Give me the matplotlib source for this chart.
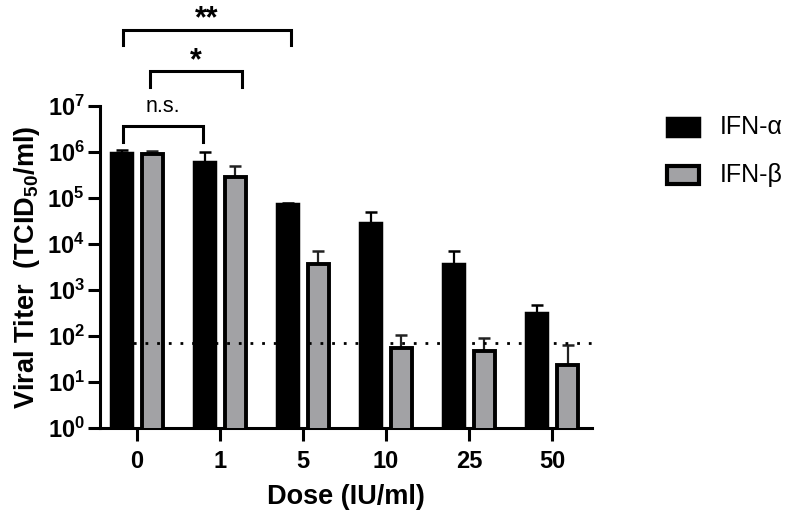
import matplotlib
matplotlib.use("Agg")
import matplotlib.pyplot as plt
import numpy as np
from matplotlib.patches import Rectangle

plt.rcParams['font.family'] = ['Liberation Sans', 'DejaVu Sans']
plt.rcParams['mathtext.fontset'] = 'custom'
plt.rcParams['mathtext.rm'] = 'Liberation Sans'
plt.rcParams['mathtext.bf'] = 'Liberation Sans:bold'
plt.rcParams['mathtext.it'] = 'Liberation Sans:italic'

doses = ['0', '1', '5', '10', '25', '50']
ifn_alpha = [9.5e5, 6.0e5, 7.5e4, 2.9e4, 3.7e3, 320]
ifn_alpha_err = [1.1e6, 1.0e6, 7.8e4, 5.0e4, 7.0e3, 480]
ifn_beta = [9.2e5, 2.9e5, 3.7e3, 55, 48, 24]
ifn_beta_err = [1.05e6, 5.0e5, 7.0e3, 105, 90, 65]
detection_limit = 70
series_names = ['IFN-α', 'IFN-β']

W, H = 791, 518
fig = plt.figure(figsize=(W / 100, H / 100), dpi=100)
ax = fig.add_axes([100 / W, 1 - 428 / H, 492 / W, 322 / H])

GRAY = '#a2a2a5'
x = np.arange(len(doses))
w = 0.25
off = 0.185
lw_axis = 2.2

ax.bar(x - off, ifn_alpha, width=w, color='black', edgecolor='black', linewidth=2.5, zorder=3)
ax.bar(x + off, ifn_beta, width=w, color=GRAY, edgecolor='black', linewidth=2.8, zorder=3)

for xi, v, e in zip(x - off, ifn_alpha, ifn_alpha_err):
    ax.errorbar([xi], [v], yerr=[[0], [e - v]], fmt='none', ecolor='black', elinewidth=1.6,
                capsize=4.5, capthick=1.8, zorder=2)
for xi, v, e in zip(x + off, ifn_beta, ifn_beta_err):
    ax.errorbar([xi], [v], yerr=[[0], [e - v]], fmt='none', ecolor='#222222', elinewidth=1.6,
                capsize=4.5, capthick=1.8, zorder=2)

ax.axhline(detection_limit, xmin=0.02, xmax=1.0, color='black', linestyle=(0, (1, 3.2)),
           linewidth=2.0, zorder=4)

ax.set_yscale('log')
ax.set_ylim(1, 1e7)
ax.set_xlim(-0.445, 5.48)
ax.set_yticks([10 ** k for k in range(8)])
ax.set_yticklabels([r'$\mathbf{10^{%d}}$' % k for k in range(8)])
ax.yaxis.set_minor_locator(matplotlib.ticker.NullLocator())
ax.set_xticks(x)
ax.set_xticklabels(doses, fontweight='bold')
ax.tick_params(axis='both', labelsize=17, width=lw_axis, length=9, direction='out')
ax.tick_params(axis='x', pad=7)
ax.tick_params(axis='y', pad=2)
for s in ['top', 'right']:
    ax.spines[s].set_visible(False)
for s in ['left', 'bottom']:
    ax.spines[s].set_linewidth(lw_axis)

ax.set_xlabel('Dose (IU/ml)', fontsize=19.5, fontweight='bold', labelpad=8)
ax.set_ylabel(r'Viral Titer  (TCID$_{\mathbf{50}}$/ml)', fontsize=19.5, fontweight='bold', labelpad=4)


# significance brackets (vertical positions in pixels from top of figure)
def ylog(px):
    return 10 ** ((428 - px) / 46.0)


def xd(px):
    return (px - 137) / 83.2


def bracket(x1p, x2p, ytop_px, ybot_px, label, base_px, fs, weight):
    yt = ylog(ytop_px)
    yb = ylog(ybot_px)
    x1, x2 = xd(x1p), xd(x2p)
    ax.plot([x1, x1, x2, x2], [yb, yt, yt, yb], color='black', linewidth=2.2,
            clip_on=False, solid_joinstyle='miter')
    ax.text((x1 + x2) / 2, ylog(base_px), label, ha='center', va='baseline',
            fontsize=fs, fontweight=weight, clip_on=False)


bracket(123, 291, 30, 45, '**', 27, 22, 'bold')
bracket(150, 242, 71, 87, '*', 69, 22, 'bold')
bracket(123, 203, 126, 142, 'n.s.', 112, 15.5, 'normal')

# legend drawn in figure pixels
for i, (name, fc, lw) in enumerate(zip(series_names, ['black', GRAY], [2.5, 3.0])):
    yc = 127 + 48 * i
    rect = Rectangle((667 / W, 1 - (yc + 8.5) / H), 32 / W, 17 / H, transform=fig.transFigure,
                     facecolor=fc, edgecolor='black', linewidth=lw)
    fig.add_artist(rect)
    fig.text(720 / W, 1 - yc / H, name, ha='left', va='center', fontsize=18)

fig.savefig('out.png', dpi=100)
